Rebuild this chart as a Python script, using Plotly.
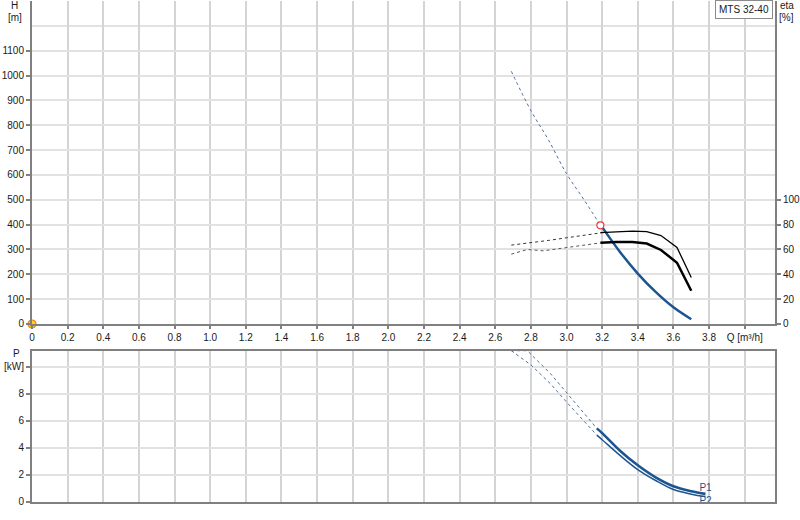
import plotly.graph_objects as go

# flow ticks, last one carries the axis title like the original sheet
Q_TICKS = [0, 0.2, 0.4, 0.6, 0.8, 1.0, 1.2, 1.4, 1.6, 1.8, 2.0, 2.2, 2.4, 2.6, 2.8, 3.0, 3.2, 3.4, 3.6, 3.8, 4.0]
Q_LABELS = ["0", "0.2", "0.4", "0.6", "0.8", "1.0", "1.2", "1.4", "1.6", "1.8", "2.0", "2.2", "2.4",
            "2.6", "2.8", "3.0", "3.2", "3.4", "3.6", "3.8", "Q [m³/h]"]
H_TICKS = [0, 100, 200, 300, 400, 500, 600, 700, 800, 900, 1000, 1100]
ETA_TICKS = [0, 20, 40, 60, 80, 100]
P_TICKS = [0, 2, 4, 6, 8, 10]
P_LABELS = ["0", "2", "4", "6", "8", "[kW]"]

# head curve: dotted outside the operating range, solid inside
Q_H_EXT = [2.69, 2.8, 2.9, 3.0, 3.1, 3.19]
H_EXT = [1017, 859, 739, 605, 498, 397]
Q_H = [3.2, 3.3, 3.4, 3.5, 3.6, 3.7]
H = [390, 290, 203, 129, 67, 19]

# duty point
Q_DUTY = [3.19]
H_DUTY = [397]

# efficiency curves
Q_ETA_A_EXT = [2.69, 2.8, 2.9, 3.0, 3.1, 3.2]
ETA_A_EXT = [63.5, 65.2, 67.3, 69.4, 71.5, 73.5]
Q_ETA_B_EXT = [2.69, 2.78, 2.87, 3.0, 3.1, 3.19]
ETA_B_EXT = [56.2, 60.0, 58.9, 61.6, 63.6, 65.3]
Q_ETA = [3.19, 3.28, 3.37, 3.45, 3.53, 3.62, 3.7]
ETA_A = [73.5, 74.3, 74.8, 74.4, 71.2, 61.6, 37.5]
ETA_B = [65.3, 66.0, 66.0, 64.8, 59.6, 49.3, 26.8]

# power curves
Q_P1_EXT = [2.69, 2.78, 2.91, 3.0, 3.17]
P1_EXT = [11.2, 11.2, 9.5, 8.1, 5.45]
Q_P2_EXT = [2.69, 2.8, 2.91, 3.0, 3.17]
P2_EXT = [11.2, 10.15, 8.75, 7.4, 4.95]
Q_P = [3.17, 3.2, 3.3, 3.4, 3.5, 3.6, 3.7, 3.78]
P1 = [5.45, 5.1, 3.8, 2.72, 1.83, 1.17, 0.8, 0.6]
P2 = [4.95, 4.61, 3.45, 2.4, 1.59, 0.92, 0.58, 0.4]

BLUE = "#1d5590"
DOTBLUE = "#4f6f99"
GRIDX = "#d4d4d4"
GRIDY = "#e2e2e2"
AXIS = "#808080"
TXT = "#1a1a1a"
FONT = "Arial, Liberation Sans, sans-serif"

fig = go.Figure()

# upper chart: H and eta
fig.add_trace(go.Scatter(x=Q_H_EXT, y=H_EXT, mode="lines", line=dict(color=DOTBLUE, width=1, dash="dot", shape="spline"),
                         xaxis="x", yaxis="y"))
fig.add_trace(go.Scatter(x=Q_H, y=H, mode="lines", line=dict(color=BLUE, width=2.5, shape="spline"),
                         xaxis="x", yaxis="y"))
fig.add_trace(go.Scatter(x=Q_ETA_A_EXT, y=ETA_A_EXT, mode="lines", line=dict(color="#333333", width=1, dash="dot"),
                         xaxis="x", yaxis="y2"))
fig.add_trace(go.Scatter(x=Q_ETA_B_EXT, y=ETA_B_EXT, mode="lines", line=dict(color="#555555", width=1, dash="dot"),
                         xaxis="x", yaxis="y2"))
fig.add_trace(go.Scatter(x=Q_ETA, y=ETA_A, mode="lines", line=dict(color="black", width=1.3),
                         xaxis="x", yaxis="y2"))
fig.add_trace(go.Scatter(x=Q_ETA, y=ETA_B, mode="lines", line=dict(color="black", width=2.5),
                         xaxis="x", yaxis="y2"))
fig.add_trace(go.Scatter(x=Q_DUTY, y=H_DUTY, mode="markers",
                         marker=dict(symbol="circle", size=7, color="white", line=dict(color="#e8383d", width=1.2)),
                         xaxis="x", yaxis="y"))
fig.add_trace(go.Scatter(x=[0], y=[0], mode="markers", cliponaxis=False,
                         marker=dict(symbol="circle", size=8, color="#ffd21f", line=dict(color="#f07a1a", width=1.2)),
                         xaxis="x", yaxis="y"))

# lower chart: P1 and P2
fig.add_trace(go.Scatter(x=Q_P1_EXT, y=P1_EXT, mode="lines", line=dict(color=DOTBLUE, width=1, dash="dot"),
                         xaxis="x2", yaxis="y3"))
fig.add_trace(go.Scatter(x=Q_P2_EXT, y=P2_EXT, mode="lines", line=dict(color=DOTBLUE, width=1, dash="dot"),
                         xaxis="x2", yaxis="y3"))
fig.add_trace(go.Scatter(x=Q_P, y=P1, mode="lines+text", line=dict(color=BLUE, width=2.6, shape="spline"),
                         text=[""] * (len(Q_P) - 1) + ["P1"], textposition="top center",
                         textfont=dict(color=BLUE, size=10, family=FONT), cliponaxis=False,
                         xaxis="x2", yaxis="y3"))
fig.add_trace(go.Scatter(x=Q_P, y=P2, mode="lines+text", line=dict(color=BLUE, width=1.5, shape="spline"),
                         text=[""] * (len(Q_P) - 1) + ["P2"], textposition="bottom center",
                         textfont=dict(color=BLUE, size=10, family=FONT), cliponaxis=False,
                         xaxis="x2", yaxis="y3"))

common_x = dict(range=[0, 4.17], tickmode="array", tickvals=Q_TICKS, showgrid=True, gridcolor=GRIDX, gridwidth=1.5,
                zeroline=False, showline=True, linecolor=AXIS, linewidth=2, automargin=False)

fig.update_layout(
    width=800, height=520,
    margin=dict(l=32, r=25, t=1, b=18, autoexpand=False),
    paper_bgcolor="white", plot_bgcolor="white",
    showlegend=False,
    font=dict(family=FONT, size=10, color=TXT),
    xaxis=dict(common_x, domain=[0, 1], anchor="y", ticktext=Q_LABELS, ticks="outside", ticklen=3,
               tickcolor=AXIS, tickwidth=1.5),
    yaxis=dict(domain=[0.3553, 1], range=[0, 1300], tickmode="array", tickvals=H_TICKS, automargin=False,
               showgrid=True, gridcolor=GRIDY, gridwidth=2, zeroline=False,
               showline=True, linecolor=AXIS, linewidth=2, ticks="outside", ticklen=4, tickcolor=AXIS, tickwidth=1.5,
               minor=dict(tickvals=[1200], showgrid=True, gridcolor=GRIDY, gridwidth=2, ticks="")),
    yaxis2=dict(overlaying="y", side="right", anchor="x", range=[0, 260], tickmode="array", tickvals=ETA_TICKS,
                showgrid=False, zeroline=False, showline=True, linecolor=AXIS, linewidth=2, automargin=False,
                ticks="outside", ticklen=4, tickcolor=AXIS, tickwidth=1.5),
    xaxis2=dict(common_x, domain=[0, 1], anchor="y3", matches="x", showticklabels=False, mirror=True),
    yaxis3=dict(domain=[0, 0.302], range=[0, 11.2], tickmode="array", tickvals=P_TICKS, ticktext=P_LABELS,
                showgrid=True, gridcolor=GRIDY, gridwidth=2, zeroline=False, automargin=False,
                showline=True, linecolor=AXIS, linewidth=2, mirror=True,
                ticks="outside", ticklen=4, tickcolor=AXIS, tickwidth=1.5),
    annotations=[
        dict(text="H", x=-0.0229, y=0.992, xref="paper", yref="paper", showarrow=False, xanchor="center", yanchor="middle"),
        dict(text="[m]", x=-0.0229, y=0.968, xref="paper", yref="paper", showarrow=False, xanchor="center", yanchor="middle"),
        dict(text="eta", x=1.016, y=0.992, xref="paper", yref="paper", showarrow=False, xanchor="center", yanchor="middle"),
        dict(text="[%]", x=1.016, y=0.968, xref="paper", yref="paper", showarrow=False, xanchor="center", yanchor="middle"),
        dict(text="P", x=-0.0202, y=0.2974, xref="paper", yref="paper", showarrow=False, xanchor="center", yanchor="middle"),
        dict(text="MTS 32-40", x=0.958, y=0.983, xref="paper", yref="paper", showarrow=False,
             xanchor="center", yanchor="middle", bgcolor="white", bordercolor="#8a8a8a", borderwidth=1, borderpad=3),
    ],
)

# the page's default 8px body margin would push the figure off the window
fig.write_html("out.html", config={"displayModeBar": False},
               post_script="document.body.style.margin = '0';")
